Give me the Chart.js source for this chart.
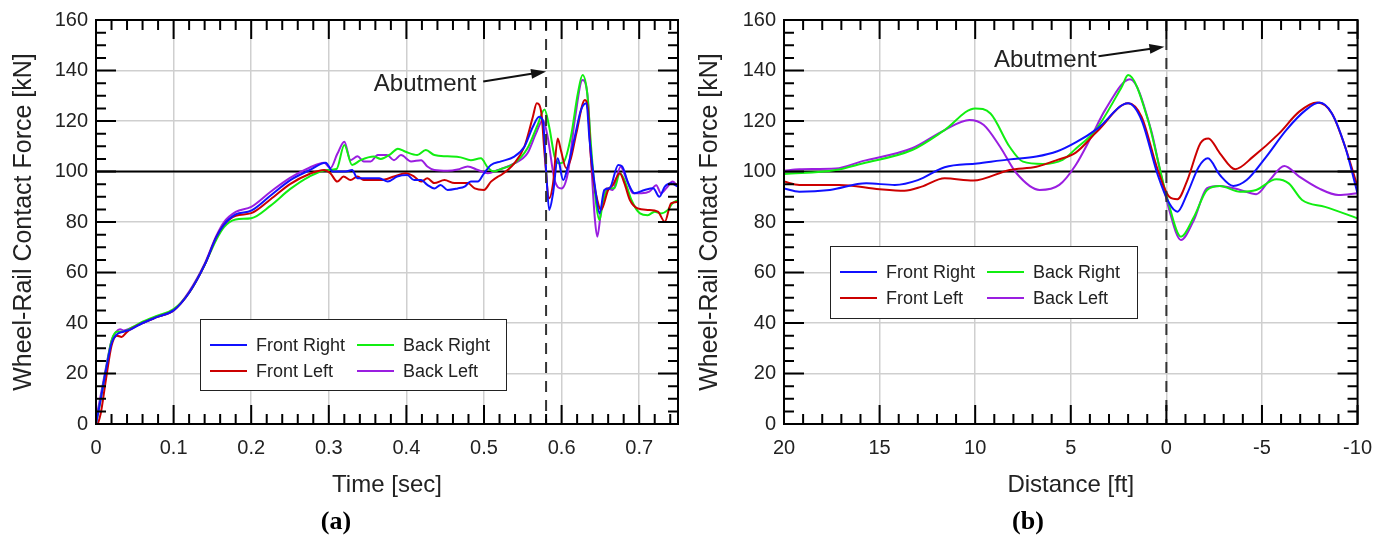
<!DOCTYPE html>
<html>
<head>
<meta charset="utf-8">
<script src="https://cdn.jsdelivr.net/npm/chart.js@4.4.0/dist/chart.umd.min.js"></script>
<style>
  body { margin: 0; background: #fff; width: 1384px; height: 537px; overflow: hidden; position: relative; }
  .wrap { position: absolute; top: 0; width: 692px; height: 537px; }
  .cap { position: absolute; top: 506px; width: 100px; text-align: center; font: bold 26px "Liberation Serif", "Times New Roman", serif; color: #000; }
</style>
</head>
<body>
<div class="wrap" style="left:0"><canvas id="chartA" width="692" height="537"></canvas></div>
<div class="wrap" style="left:692px"><canvas id="chartB" width="692" height="537"></canvas></div>
<div class="cap" style="left:286px">(a)</div>
<div class="cap" style="left:978px">(b)</div>
<script>
// ---- (a) force vs time ----
const timeTicks = [0, 0.1, 0.2, 0.3, 0.4, 0.5, 0.6, 0.7];
const forceTicks = [0, 20, 40, 60, 80, 100, 120, 140, 160];

const timeFR = [0, 0.005, 0.012, 0.02, 0.027, 0.035, 0.045, 0.06, 0.08, 0.1, 0.12, 0.14, 0.155, 0.165, 0.18, 0.2, 0.225, 0.25, 0.275, 0.296, 0.305, 0.322, 0.33, 0.337, 0.365, 0.376, 0.388, 0.401, 0.41, 0.419, 0.427, 0.436, 0.444, 0.453, 0.466, 0.475, 0.483, 0.492, 0.5, 0.509, 0.522, 0.539, 0.552, 0.563, 0.571, 0.576, 0.58, 0.584, 0.589, 0.595, 0.602, 0.608, 0.617, 0.625, 0.632, 0.636, 0.643, 0.649, 0.655, 0.662, 0.673, 0.678, 0.686, 0.694, 0.707, 0.718, 0.726, 0.733, 0.741, 0.75];
const forceFR = [0, 8, 20, 32, 35.5, 36.5, 37.5, 40, 42.5, 45, 52, 63, 74, 79, 83, 84.5, 90.5, 96.5, 100.5, 103.5, 100, 100, 100.6, 97.3, 97.3, 96, 98, 98.6, 96.6, 96.6, 94.7, 93.3, 94.7, 92.7, 93.3, 94, 96, 96, 99.3, 102.6, 104, 105.9, 109.8, 117.7, 121.7, 120, 100.6, 84.8, 91.4, 105.2, 96.6, 101.9, 113.8, 124.4, 127, 112.5, 94, 83.4, 92.7, 93.4, 102.6, 102, 95.3, 91.4, 92.7, 93.4, 90, 94, 95.3, 94];

const timeFL = [0, 0.006, 0.013, 0.02, 0.027, 0.033, 0.04, 0.06, 0.08, 0.1, 0.12, 0.14, 0.155, 0.165, 0.18, 0.2, 0.225, 0.25, 0.275, 0.294, 0.302, 0.311, 0.319, 0.328, 0.337, 0.345, 0.367, 0.384, 0.399, 0.41, 0.419, 0.427, 0.436, 0.449, 0.462, 0.479, 0.488, 0.5, 0.509, 0.518, 0.522, 0.539, 0.552, 0.563, 0.568, 0.574, 0.578, 0.584, 0.589, 0.595, 0.599, 0.606, 0.612, 0.619, 0.63, 0.634, 0.638, 0.647, 0.651, 0.66, 0.666, 0.675, 0.681, 0.688, 0.698, 0.711, 0.724, 0.733, 0.741, 0.75];
const forceFL = [-2, 4, 18, 31, 35, 34.5, 36.5, 40, 42.5, 45, 52, 63, 74, 79, 82.5, 83.5, 89, 95, 99, 100.6, 99.3, 96, 98, 96.6, 98, 96.6, 96.6, 98, 99.3, 98, 96, 97.3, 95.4, 96.6, 95.4, 95.4, 93.3, 92.7, 96, 98, 98.6, 103.2, 109.8, 121.7, 127, 123, 107.2, 89.4, 95.3, 113.1, 108.5, 101.3, 105.2, 115.1, 128.3, 124.4, 104.6, 87.4, 84.8, 92.7, 94.6, 99.3, 95.3, 88.7, 85.4, 84.8, 84.1, 80.1, 87.4, 88];

const timeBR = [0, 0.005, 0.012, 0.02, 0.027, 0.035, 0.045, 0.06, 0.08, 0.1, 0.12, 0.14, 0.155, 0.165, 0.18, 0.2, 0.225, 0.25, 0.275, 0.298, 0.31, 0.32, 0.33, 0.341, 0.358, 0.367, 0.38, 0.389, 0.399, 0.414, 0.425, 0.436, 0.453, 0.47, 0.483, 0.496, 0.505, 0.513, 0.522, 0.539, 0.556, 0.569, 0.578, 0.584, 0.591, 0.597, 0.603, 0.612, 0.621, 0.627, 0.633, 0.638, 0.645, 0.649, 0.653, 0.66, 0.668, 0.675, 0.681, 0.69, 0.701, 0.711, 0.72, 0.728, 0.737, 0.743, 0.75];
const forceBR = [0, 8, 20, 33, 36.5, 36.5, 38, 40.5, 43, 45.5, 52, 63, 73, 78, 81, 81.5, 86.5, 93, 98, 100.6, 101, 110.5, 102.6, 104.5, 105.9, 105, 107, 109, 107.8, 106.5, 108.5, 106.5, 106, 105.6, 104.5, 105.2, 101.5, 100, 101, 103.2, 109.2, 118.4, 124.6, 117.7, 105.9, 103.2, 103.9, 113.8, 131, 138.2, 131, 109.8, 86, 80.8, 87.4, 93.4, 93.4, 99.3, 96.6, 88.7, 83.4, 82.7, 84.1, 83.4, 84.8, 87.4, 88.7];

const timeBL = [0, 0.004, 0.012, 0.02, 0.026, 0.031, 0.036, 0.045, 0.06, 0.08, 0.1, 0.12, 0.14, 0.155, 0.165, 0.18, 0.2, 0.225, 0.25, 0.275, 0.294, 0.302, 0.311, 0.32, 0.328, 0.337, 0.345, 0.354, 0.363, 0.375, 0.384, 0.393, 0.406, 0.419, 0.427, 0.436, 0.453, 0.466, 0.479, 0.492, 0.505, 0.518, 0.522, 0.539, 0.556, 0.567, 0.576, 0.582, 0.591, 0.6, 0.608, 0.617, 0.627, 0.634, 0.638, 0.643, 0.646, 0.651, 0.658, 0.666, 0.676, 0.684, 0.692, 0.703, 0.713, 0.722, 0.728, 0.735, 0.743, 0.75];
const forceBL = [2, 8, 21, 33, 36.5, 37.5, 37, 38, 40, 42.5, 45, 52.5, 63.5, 74.5, 80, 84, 86, 92, 97.5, 101.5, 103.5, 101.3, 107, 111.8, 104.5, 106, 104, 104, 106.5, 106.5, 104.5, 106.5, 104, 104.5, 102, 100.6, 100.3, 100.8, 102, 100.6, 99.3, 100.6, 101, 103.2, 107.2, 115.1, 120.4, 113.8, 96.6, 93.3, 99.3, 120.4, 136.2, 128.3, 104.6, 80.8, 74.2, 84.8, 93.4, 92.7, 101.9, 96.6, 91.4, 91.4, 92, 94.6, 91.4, 93.4, 96, 94];

// ---- (b) force vs distance ----
const distTicks = [20, 15, 10, 5, 0, -5, -10];

const distFR = [20, 19.2, 17.6, 15.7, 14.2, 13, 11.6, 9.9, 8.2, 6.8, 5.7, 4.74, 3.6, 2.0, 1.3, 0.45, -0.15, -0.58, -1.1, -1.7, -2.17, -2.8, -3.5, -4.2, -5.23, -6.27, -7.3, -8, -8.66, -9.35, -10];
const forceDFR = [93.3, 92, 92.7, 95.3, 94.7, 96.6, 101.7, 103.2, 104.8, 105.9, 108, 111.5, 117, 127, 120.4, 98.6, 87.4, 84.1, 91.4, 101.9, 105.2, 98.6, 94.3, 96.6, 105.9, 116.4, 124.4, 127.3, 123, 109.8, 91.4];

const distFL = [20, 19.2, 17.1, 15, 13.7, 12.8, 11.6, 10.1, 8.2, 6.8, 5.7, 4.74, 3.6, 2.0, 1.3, 0.45, -0.15, -0.58, -1.1, -1.78, -2.2, -2.8, -3.6, -4.54, -5.9, -6.95, -7.89, -8.66, -9.35, -10];
const forceDFL = [96, 94.7, 94.7, 93, 92.4, 94, 97.3, 96.4, 100.6, 101.9, 104.6, 107.5, 116, 127, 121.7, 100.6, 90, 89, 96.6, 111.2, 113.1, 107.2, 100.9, 105.9, 115.1, 123.7, 127.3, 123, 109.8, 94];

const distBR = [20, 17.3, 15.9, 13.3, 11.6, 10, 9.2, 8.2, 7.5, 6.46, 5.43, 4.74, 3.7, 2.33, 2, 0.96, 0.45, -0.07, -0.76, -1.44, -2.13, -2.8, -3.86, -4.7, -5.75, -6.4, -7.1, -8.3, -10];
const forceDBR = [99, 100.6, 103.2, 108.5, 116.4, 125, 123, 109.8, 103.9, 103, 104.6, 109, 116.4, 133.6, 138.2, 120.4, 104.6, 88.7, 74.2, 82, 92.7, 94.3, 92, 92.7, 96.9, 95.3, 88.7, 86, 81.5];

const distBL = [20, 19.2, 17.3, 15.9, 13.3, 11.6, 10.3, 9.55, 8.7, 7.84, 6.63, 5.6, 4.74, 3.88, 3.2, 1.9, 0.8, 0.3, -0.15, -0.76, -1.44, -2.13, -2.8, -3.86, -4.7, -5.4, -6.17, -6.95, -7.98, -9, -10];
const forceDBL = [100.3, 100.9, 101.2, 104.1, 109.2, 116.4, 120.4, 118.4, 109.8, 99.3, 92.7, 94.7, 102.6, 114.5, 124.4, 136.5, 116.4, 99.3, 84.8, 72.9, 80.8, 93.4, 94.3, 92.7, 91, 96.6, 102.2, 98, 93.3, 90.7, 91.4];

const seriesNames = ["Front Right", "Front Left", "Back Right", "Back Left"];
const seriesColors = ["#1010ff", "#cc0000", "#11ee11", "#9a1ee0"];

const FONT = "'Liberation Sans', Arial, sans-serif";

const pts = (xs, ys) => xs.map((x, i) => ({ x: x, y: ys[i] }));

const makeSets = (lists) =>
  lists.map((l, i) => ({
    label: seriesNames[i],
    data: pts(l[0], l[1]),
    borderColor: seriesColors[i],
    backgroundColor: seriesColors[i],
    borderWidth: 2,
    pointRadius: 0,
    fill: false,
    cubicInterpolationMode: "monotone",
  }));

// frame, ticks inside, reference lines, note, legend
const framePlugin = {
  id: "frame",
  beforeDatasetsDraw(chart, args, o) {
    const { ctx, chartArea: a, scales } = chart;
    ctx.save();
    ctx.strokeStyle = "#000";
    ctx.lineWidth = 2;
    const py = scales.y.getPixelForValue(o.refY);
    ctx.beginPath();
    ctx.moveTo(a.left, py);
    ctx.lineTo(a.right, py);
    ctx.stroke();
    ctx.restore();
  },
  afterDatasetsDraw(chart, args, o) {
    const { ctx, chartArea: a, scales } = chart;
    const xs = scales.x, ys = scales.y;
    ctx.save();
    // dashed abutment line
    const px = xs.getPixelForValue(o.refX);
    ctx.strokeStyle = "#333";
    ctx.lineWidth = 2;
    ctx.setLineDash([11, 8]);
    ctx.beginPath();
    ctx.moveTo(px, a.top);
    ctx.lineTo(px, a.bottom);
    ctx.stroke();
    ctx.setLineDash([]);

    // border
    ctx.strokeStyle = "#000";
    ctx.lineWidth = 2;
    ctx.strokeRect(a.left, a.top, a.right - a.left, a.bottom - a.top);

    // ticks on all sides
    ctx.beginPath();
    const xLo = Math.min(xs.min, xs.max), xHi = Math.max(xs.min, xs.max);
    const nx = Math.floor((xHi - xLo) / o.xMinor + 1e-6);
    for (let i = 0; i <= nx; i++) {
      const v = xLo + i * o.xMinor;
      const major = Math.abs(v / o.xMajor - Math.round(v / o.xMajor)) < 1e-6;
      const len = major ? 19 : 10;
      const p = xs.getPixelForValue(v);
      ctx.moveTo(p, a.bottom);
      ctx.lineTo(p, a.bottom - len);
      ctx.moveTo(p, a.top);
      ctx.lineTo(p, a.top + len);
    }
    const ny = Math.floor((ys.max - ys.min) / o.yMinor + 1e-6);
    for (let i = 0; i <= ny; i++) {
      const v = ys.min + i * o.yMinor;
      const len = v % o.yMajor === 0 ? 20 : 10;
      const p = ys.getPixelForValue(v);
      ctx.moveTo(a.left, p);
      ctx.lineTo(a.left + len, p);
      ctx.moveTo(a.right, p);
      ctx.lineTo(a.right - len, p);
    }
    ctx.stroke();

    // Abutment note with arrow
    const n = o.note;
    ctx.fillStyle = "#222";
    ctx.font = "24px " + FONT;
    ctx.textAlign = "left";
    ctx.textBaseline = "middle";
    ctx.fillText("Abutment", xs.getPixelForValue(n.x), ys.getPixelForValue(n.y));
    const x0 = xs.getPixelForValue(n.ax0), y0 = ys.getPixelForValue(n.ay0);
    const x1 = xs.getPixelForValue(n.ax1), y1 = ys.getPixelForValue(n.ay1);
    const ang = Math.atan2(y1 - y0, x1 - x0);
    ctx.strokeStyle = "#111";
    ctx.lineWidth = 2;
    ctx.beginPath();
    ctx.moveTo(x0, y0);
    ctx.lineTo(x1 - 10 * Math.cos(ang), y1 - 10 * Math.sin(ang));
    ctx.stroke();
    ctx.fillStyle = "#111";
    ctx.beginPath();
    ctx.moveTo(x1, y1);
    ctx.lineTo(x1 - 15 * Math.cos(ang) + 5 * Math.sin(ang), y1 - 15 * Math.sin(ang) - 5 * Math.cos(ang));
    ctx.lineTo(x1 - 15 * Math.cos(ang) - 5 * Math.sin(ang), y1 - 15 * Math.sin(ang) + 5 * Math.cos(ang));
    ctx.closePath();
    ctx.fill();

    // legend box
    const L = o.legend;
    ctx.fillStyle = "#fff";
    ctx.fillRect(L.x, L.y, L.w, L.h);
    ctx.strokeStyle = "#222";
    ctx.lineWidth = 1;
    ctx.strokeRect(L.x + 0.5, L.y + 0.5, L.w, L.h);
    ctx.font = "18px " + FONT;
    ctx.textBaseline = "middle";
    const cols = [0, 1, 0, 1];
    const rows = [0, 0, 1, 1];
    const order = [0, 2, 1, 3];
    chart.data.datasets.forEach((ds, i) => {
      const slot = order.indexOf(i);
      const cx = L.x + (cols[slot] ? 157 : 10);
      const cy = L.y + (rows[slot] ? 52 : 26);
      ctx.strokeStyle = ds.borderColor;
      ctx.lineWidth = 2;
      ctx.beginPath();
      ctx.moveTo(cx, cy);
      ctx.lineTo(cx + 37, cy);
      ctx.stroke();
      ctx.fillStyle = "#222";
      ctx.fillText(ds.label, cx + 46, cy + 1);
    });
    ctx.restore();
  },
};

const makeChart = (id, sets, cfg) => {
  const gridStyle = { color: "#cfcfcf", lineWidth: 1.5, drawTicks: false };
  return new Chart(document.getElementById(id), {
    type: "line",
    data: { datasets: sets },
    plugins: [framePlugin],
    options: {
      responsive: false,
      animation: false,
      layout: { padding: { left: 0, top: 20, right: cfg.padRight, bottom: 37 } },
      plugins: {
        legend: { display: false },
        tooltip: { enabled: false },
        frame: cfg.frame,
      },
      scales: {
        x: {
          type: "linear",
          min: cfg.xMin,
          max: cfg.xMax,
          reverse: cfg.reverse,
          afterBuildTicks: (s) => { s.ticks = cfg.xTicks.map((v) => ({ value: v })); },
          afterFit: (s) => { s.height = 76; },
          grid: gridStyle,
          border: { display: false },
          ticks: { color: "#222", font: { size: 20, family: FONT }, padding: 12, maxRotation: 0, autoSkip: false, callback: (v) => String(v) },
          title: { display: true, text: cfg.xTitle, color: "#222", font: { size: 24, family: FONT }, padding: { top: 0, bottom: 0 } },
        },
        y: {
          type: "linear",
          min: 0,
          max: 160,
          afterBuildTicks: (s) => { s.ticks = forceTicks.map((v) => ({ value: v })); },
          afterFit: (s) => { s.width = cfg.yWidth; },
          grid: gridStyle,
          border: { display: false },
          ticks: { color: "#222", font: { size: 20, family: FONT }, padding: 8, autoSkip: false, callback: (v) => String(v) },
          title: { display: true, text: "Wheel-Rail Contact Force [kN]", color: "#222", font: { size: 25, family: FONT }, padding: { top: cfg.yTitlePad, bottom: 0 } },
        },
      },
    },
  });
};

window.onload = () => {
  makeChart("chartA", makeSets([[timeFR, forceFR], [timeFL, forceFL], [timeBR, forceBR], [timeBL, forceBL]]), {
    xMin: 0, xMax: 0.75, reverse: false, xTicks: timeTicks, xTitle: "Time [sec]",
    padRight: 14, yWidth: 96, yTitlePad: 9,
    frame: {
      refY: 100, refX: 0.58, xMinor: 0.02, xMajor: 0.1, yMinor: 5, yMajor: 20,
      note: { x: 0.358, y: 134.7, ax0: 0.499, ay0: 135.6, ax1: 0.58, ay1: 139.6 },
      legend: { x: 200, y: 319, w: 306, h: 71 },
    },
  });
  makeChart("chartB", makeSets([[distFR, forceDFR], [distFL, forceDFL], [distBR, forceDBR], [distBL, forceDBL]]), {
    xMin: -10, xMax: 20, reverse: true, xTicks: distTicks, xTitle: "Distance [ft]",
    padRight: 18, yWidth: 92, yTitlePad: 3,
    frame: {
      refY: 100, refX: 0, xMinor: 1, xMajor: 5, yMinor: 5, yMajor: 20,
      note: { x: 9.02, y: 144.2, ax0: 3.55, ay0: 145.6, ax1: 0.1, ay1: 149.4 },
      legend: { x: 138, y: 246, w: 307, h: 72 },
    },
  });
};
</script>
</body>
</html>
